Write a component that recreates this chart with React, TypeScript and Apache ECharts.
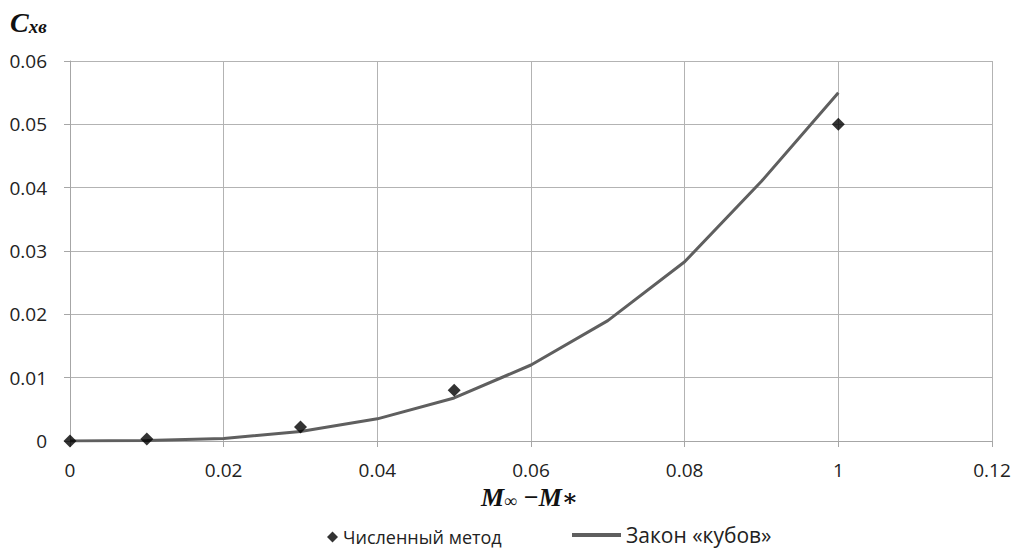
import React, { useEffect, useRef } from "react";
import * as echarts from "echarts";

const xTickLabels = ["0", "0.02", "0.04", "0.06", "0.08", "1", "0.12"];
const yTickLabels = ["0", "0.01", "0.02", "0.03", "0.04", "0.05", "0.06"];

const numericX = [0, 0.01, 0.03, 0.05, 0.1];
const numericY = [0, 0.0003, 0.0022, 0.008, 0.05];

const cubeX = [0, 0.01, 0.02, 0.03, 0.04, 0.05, 0.06, 0.07, 0.08, 0.09, 0.1];
const cubeY = [0, 0.00006, 0.0004, 0.0015, 0.0035, 0.0068, 0.012, 0.019, 0.0283, 0.041, 0.055];

const seriesNames = ["Численный метод", "Закон «кубов»"];

export default function App() {
  const ref = useRef<HTMLDivElement>(null);
  useEffect(() => {
    if (!ref.current) return;
    const chart = echarts.init(ref.current, null, { renderer: "svg" });
    const labelFont = "'Open Sans', 'Noto Sans', sans-serif";
    const serif = "'Liberation Serif', 'DejaVu Serif', serif";
    chart.setOption({
      animation: false,
      backgroundColor: "#ffffff",
      grid: { left: 70, right: 32, top: 61, bottom: 108, containLabel: false },
      xAxis: {
        type: "value",
        min: 0,
        max: 0.12,
        interval: 0.02,
        axisLine: { show: true, lineStyle: { color: "#a6a6a6", width: 1 } },
        axisTick: { show: true, length: 6, lineStyle: { color: "#a6a6a6" } },
        splitLine: { show: true, lineStyle: { color: "#b3b3b3", width: 1 } },
        axisLabel: {
          color: "#222",
          fontSize: 19,
          fontFamily: labelFont,
          margin: 19,
          formatter: (v: number) => xTickLabels[Math.round(v / 0.02)] ?? "",
        },
      },
      yAxis: {
        type: "value",
        min: 0,
        max: 0.06,
        interval: 0.01,
        axisLine: { show: true, lineStyle: { color: "#a6a6a6", width: 1 } },
        axisTick: { show: true, length: 6, lineStyle: { color: "#a6a6a6" } },
        splitLine: { show: true, lineStyle: { color: "#b3b3b3", width: 1 } },
        axisLabel: {
          color: "#222",
          fontSize: 19,
          fontFamily: labelFont,
          margin: 23,
          formatter: (v: number) => yTickLabels[Math.round(v / 0.01)] ?? "",
        },
      },
      legend: [
        {
          data: [{ name: seriesNames[0], icon: "diamond" }],
          left: 327,
          top: 528,
          padding: 0,
          itemWidth: 11,
          itemHeight: 11,
          itemGap: 10,
          textStyle: { fontSize: 18, lineHeight: 18, color: "#222", fontFamily: labelFont },
        },
        {
          data: [{ name: seriesNames[1], icon: "rect" }],
          left: 572,
          top: 524,
          padding: 0,
          itemWidth: 49,
          itemHeight: 4,
          itemGap: 12,
          textStyle: { fontSize: 21, lineHeight: 22, color: "#222", fontFamily: labelFont },
        },
      ],
      graphic: [
        {
          type: "text",
          left: 10,
          top: 8,
          style: {
            text: "{c|C}{s|xв}",
            rich: {
              c: { fontSize: 28, fontWeight: "bold", fontStyle: "italic", fontFamily: serif, fill: "#111", verticalAlign: "bottom" },
              s: { fontSize: 19, fontWeight: "bold", fontStyle: "italic", fontFamily: serif, fill: "#111", padding: [10, 0, 0, 0], verticalAlign: "bottom" },
            },
          },
        },
        {
          type: "text",
          left: 481,
          top: 484,
          style: {
            text: "{m|M}{i|∞}{m|−M}{st|∗}",
            rich: {
              m: { fontSize: 26, fontWeight: "bold", fontStyle: "italic", fontFamily: serif, fill: "#111", verticalAlign: "bottom" },
              i: { fontSize: 18, fontFamily: serif, fill: "#111", padding: [8, 6, 0, 0], verticalAlign: "bottom" },
              st: { fontSize: 24, fontWeight: "bold", fontFamily: serif, fill: "#111", padding: [12, 0, 0, 0], verticalAlign: "bottom" },
            },
          },
        },
      ],
      series: [
        {
          name: seriesNames[1],
          type: "line",
          data: cubeX.map((x, i) => [x, cubeY[i]]),
          symbol: "none",
          lineStyle: { color: "#5f5f5f", width: 3 },
          itemStyle: { color: "#5f5f5f" },
          z: 2,
        },
        {
          name: seriesNames[0],
          type: "scatter",
          data: numericX.map((x, i) => [x, numericY[i]]),
          symbol: "diamond",
          symbolSize: 13,
          itemStyle: { color: "#000000" },
          z: 3,
        },
      ],
    });
    return () => chart.dispose();
  }, []);
  return (
    <div
      ref={ref}
      style={{ position: "fixed", left: 0, top: 0, width: 1024, height: 549, background: "#fff" }}
    />
  );
}
